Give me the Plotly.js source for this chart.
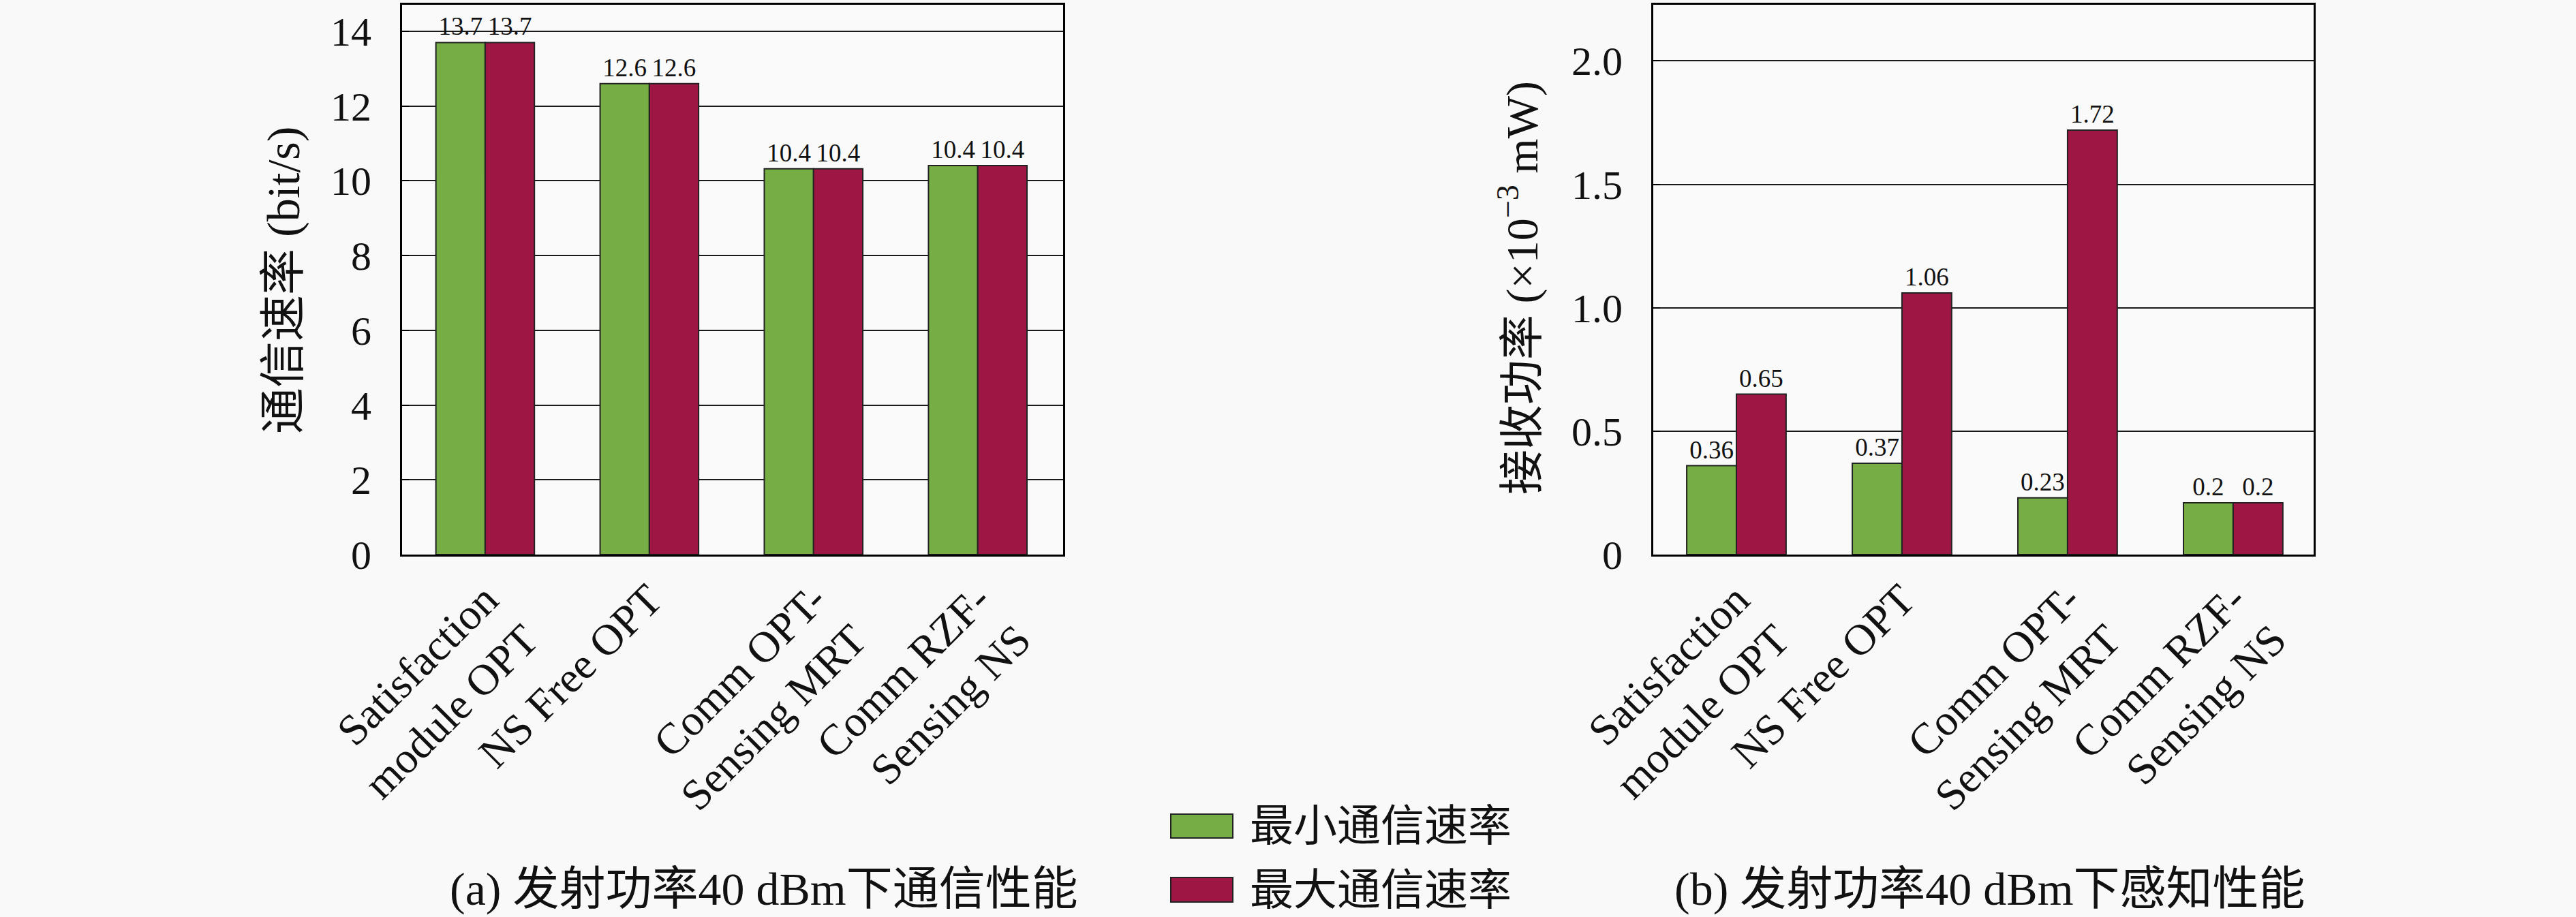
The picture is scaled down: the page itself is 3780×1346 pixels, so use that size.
<!DOCTYPE html>
<html>
<head>
<meta charset="utf-8">
<script src="https://cdn.plot.ly/plotly-3.0.1.min.js"></script>
<style>
  html, body { margin: 0; padding: 0; background: #f9f9f9; }
  #graphDiv { width: 3780px; height: 1346px; }
</style>
</head>
<body>
<div id="graphDiv"></div>
<script>
// categories (same for both panels)
const categories = [
    "Satisfaction<br>module OPT",
    "NS Free OPT",
    "Comm OPT-<br>Sensing MRT",
    "Comm RZF-<br>Sensing NS"
];
const seriesNames = ["最小通信速率", "最大通信速率"];

// (a) communication rate, bit/s
const rateMin = [13.7, 12.6, 10.32, 10.41];
const rateMax = [13.7, 12.6, 10.32, 10.41];
const rateMinText = ["13.7", "12.6", "10.4", "10.4"];
const rateMaxText = ["13.7", "12.6", "10.4", "10.4"];

// (b) received power, x10^-3 mW
const powerMin = [0.36, 0.37, 0.23, 0.21];
const powerMax = [0.65, 1.06, 1.72, 0.21];
const powerMinText = ["0.36", "0.37", "0.23", "0.2"];
const powerMaxText = ["0.65", "1.06", "1.72", "0.2"];

// tick labels
const rateTicks = [0, 2, 4, 6, 8, 10, 12, 14];
const powerTicks = [0, 0.5, 1, 1.5, 2];
const powerTickText = ["0", "0.5", "1.0", "1.5", "2.0"];

const captions = ["(a) 发射功率40 dBm下通信性能", "(b) 发射功率40 dBm下感知性能"];
const yTitles = ["通信速率 (bit/s)", "接收功率 (×10<sup>−3</sup> mW)"];

const green = '#76ae45';
const red = '#9e1744';
const FONT = "'Liberation Serif', 'Noto Sans CJK SC', serif";

function makeBar(y, text, color, name, xa, ya) {
    return {
        type: 'bar',
        x: categories,
        y: y,
        text: text,
        name: name,
        xaxis: xa,
        yaxis: ya,
        textposition: 'outside',
        constraintext: 'none',
        cliponaxis: false,
        textfont: {family: FONT, size: 37, color: '#111'},
        marker: {color: color, line: {color: '#222', width: 2}},
        showlegend: false,
        hoverinfo: 'none'
    };
}

let data = [
    makeBar(rateMin, rateMinText, green, seriesNames[0], 'x', 'y'),
    makeBar(rateMax, rateMaxText, red, seriesNames[1], 'x', 'y'),
    makeBar(powerMin, powerMinText, green, seriesNames[0], 'x2', 'y2'),
    makeBar(powerMax, powerMaxText, red, seriesNames[1], 'x2', 'y2')
];

let yTop = 1 - 6.5 / 1346;
let yBot = 1 - 814 / 1346;

let xCommon = {
    type: 'category',
    showline: true, linecolor: '#000', linewidth: 3, mirror: true,
    ticks: '', showgrid: false, zeroline: false,
    tickangle: -45,
    tickfont: {family: FONT, size: 64, color: '#111'},
    automargin: false
};
let yCommon = {
    showline: true, linecolor: '#000', linewidth: 3, mirror: true,
    ticks: 'inside', ticklen: 10, tickwidth: 2, tickcolor: '#000',
    showgrid: true, gridcolor: '#1a1a1a', gridwidth: 2,
    zeroline: false,
    tickfont: {family: FONT, size: 60, color: '#111'},
    ticklabelstandoff: 30,
    automargin: false
};

// centred text helper for paper-positioned labels
function note(text, px, py, size, angle, xanchor) {
    return {
        text: text, xref: 'paper', yref: 'paper',
        x: px / 3780, y: 1 - py / 1346,
        xanchor: xanchor || 'center', yanchor: 'middle',
        textangle: angle || 0, showarrow: false,
        font: {family: FONT, size: size, color: '#111'}
    };
}

let layout = {
    width: 3780,
    height: 1346,
    margin: {l: 0, r: 0, t: 0, b: 0},
    paper_bgcolor: '#f9f9f9',
    plot_bgcolor: '#fafafa',
    barmode: 'group',
    bargap: 0.4,
    bargroupgap: 0,
    showlegend: false,
    xaxis: Object.assign({}, xCommon, {domain: [590 / 3780, 1560 / 3780], range: [-0.506, 3.52], anchor: 'y'}),
    yaxis: Object.assign({}, yCommon, {domain: [yBot, yTop], range: [0, 14.72], tickvals: rateTicks, anchor: 'x'}),
    xaxis2: Object.assign({}, xCommon, {domain: [2426 / 3780, 3395 / 3780], range: [-0.502, 3.486], anchor: 'y2'}),
    yaxis2: Object.assign({}, yCommon, {domain: [yBot, yTop], range: [0, 2.229], tickvals: powerTicks, ticktext: powerTickText, anchor: 'x2'}),
    annotations: [
        note(yTitles[0], 416, 412, 68, -90),
        note(yTitles[1], 2229, 423, 66, -90),
        note(captions[0], 1121, 1305, 68),
        note(captions[1], 2920, 1305, 68),
        // legend labels
        note(seriesNames[0], 1832, 1212, 64, 0, 'left'),
        note(seriesNames[1], 1832, 1306, 64, 0, 'left')
    ],
    shapes: [
        // legend swatches
        {type: 'rect', xref: 'paper', yref: 'paper', x0: 1718 / 3780, x1: 1809 / 3780,
         y0: 1 - 1230 / 1346, y1: 1 - 1195 / 1346, fillcolor: green, line: {color: '#222', width: 2}},
        {type: 'rect', xref: 'paper', yref: 'paper', x0: 1718 / 3780, x1: 1809 / 3780,
         y0: 1 - 1324 / 1346, y1: 1 - 1288 / 1346, fillcolor: red, line: {color: '#222', width: 2}}
    ]
};

Plotly.newPlot('graphDiv', data, layout, {staticPlot: true});
</script>
</body>
</html>
